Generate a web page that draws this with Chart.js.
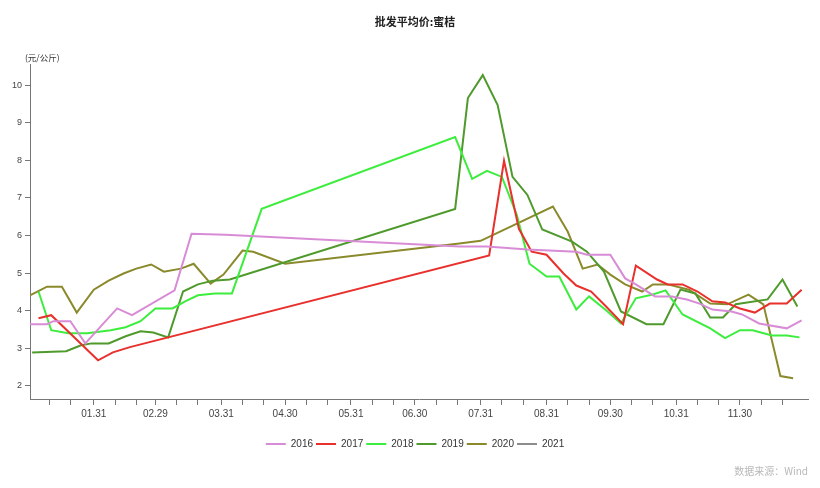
<!DOCTYPE html>
<html>
<head>
<meta charset="utf-8">
<title>批发平均价:蜜桔</title>
<script src="https://cdn.jsdelivr.net/npm/chart.js@4.4.0/dist/chart.umd.min.js"></script>
<style>
body { margin: 0; background: #fff; }
#wrap { position: relative; width: 820px; height: 488px; }
#unidad { position: absolute; left: 25px; top: 51px; font: 8.5px "Noto Sans CJK SC", sans-serif; color: #333; }
#fuente { position: absolute; right: 12px; top: 463px; font: 10px "Noto Sans CJK SC", sans-serif; color: #b8b8b8; }
</style>
</head>
<body>
<div id="wrap">
  <canvas id="grafico" width="820" height="488"></canvas>
  <div id="unidad">(元/公斤)</div>
  <div id="fuente">数据来源：Wind</div>
</div>
<script>
// datos: dia del ano (0 = 1 de enero) y precio en 元/公斤
var dias2016 = [0, 8, 11, 19, 26, 41, 48, 68, 76, 92, 202, 215, 234, 257, 262, 273, 280, 285, 294, 302, 309, 315, 321, 330, 335, 343, 356, 363];
var precios2016 = [3.64, 3.64, 3.72, 3.72, 3.13, 4.06, 3.88, 4.54, 6.05, 6.02, 5.71, 5.71, 5.63, 5.57, 5.49, 5.49, 4.86, 4.70, 4.38, 4.38, 4.30, 4.19, 4.03, 3.98, 3.90, 3.66, 3.53, 3.74];

var dias2017 = [4, 10, 32, 39, 47, 216, 223, 230, 236, 243, 251, 257, 264, 271, 279, 285, 295, 300, 307, 314, 321, 327, 334, 341, 348, 356, 363];
var precios2017 = [3.80, 3.88, 2.68, 2.89, 3.03, 5.47, 7.99, 6.18, 5.57, 5.49, 4.99, 4.67, 4.51, 4.11, 3.64, 5.20, 4.83, 4.70, 4.70, 4.51, 4.25, 4.22, 4.06, 3.95, 4.19, 4.19, 4.56];

var dias2018 = [4, 10, 18, 27, 38, 45, 52, 59, 67, 73, 79, 87, 95, 109, 200, 208, 215, 222, 229, 235, 243, 249, 257, 263, 271, 278, 285, 293, 299, 307, 320, 327, 334, 340, 349, 356, 362];
var precios2018 = [4.51, 3.48, 3.40, 3.40, 3.48, 3.56, 3.72, 4.06, 4.06, 4.25, 4.41, 4.46, 4.46, 6.71, 8.62, 7.51, 7.72, 7.56, 6.55, 5.25, 4.91, 4.91, 4.03, 4.38, 4.01, 3.66, 4.33, 4.43, 4.54, 3.90, 3.53, 3.27, 3.48, 3.48, 3.34, 3.34, 3.29];

var dias2019 = [1, 17, 24, 29, 37, 45, 52, 58, 65, 72, 79, 86, 94, 200, 206, 213, 220, 227, 234, 241, 255, 262, 270, 278, 290, 298, 306, 313, 320, 326, 332, 347, 354, 361];
var precios2019 = [2.89, 2.92, 3.08, 3.13, 3.13, 3.32, 3.45, 3.42, 3.29, 4.51, 4.70, 4.80, 4.83, 6.71, 9.66, 10.27, 9.47, 7.56, 7.08, 6.16, 5.84, 5.57, 5.04, 3.98, 3.64, 3.64, 4.56, 4.46, 3.82, 3.82, 4.17, 4.30, 4.83, 4.11];

var dias2020 = [0, 8, 15, 22, 30, 37, 44, 50, 57, 63, 71, 77, 85, 91, 100, 105, 120, 202, 212, 246, 253, 260, 267, 273, 280, 288, 293, 300, 310, 320, 328, 338, 345, 348, 353, 359];
var precios2020 = [4.41, 4.64, 4.64, 3.95, 4.56, 4.80, 4.99, 5.12, 5.23, 5.04, 5.12, 5.25, 4.72, 4.96, 5.60, 5.57, 5.25, 5.79, 5.86, 6.77, 6.10, 5.12, 5.23, 4.96, 4.70, 4.51, 4.70, 4.70, 4.56, 4.19, 4.17, 4.43, 4.17, 3.45, 2.26, 2.20];

// 2021 solo aparece en la leyenda
var dias2021 = [];
var precios2021 = [];

var anios = ['2016', '2017', '2018', '2019', '2020', '2021'];
var colores = ['#d98cd6', '#e8302c', '#3ded3d', '#4f9a2c', '#8a8a2c', '#8c8c8c'];

// ejes
var diasMes = [31, 29, 31, 30, 31, 30, 31, 31, 30, 31, 30, 31];
var etiquetasX = ['01.31', '02.29', '03.31', '04.30', '05.31', '06.30', '07.31', '08.31', '09.30', '10.31', '11.30'];
var marcasY = [2, 3, 4, 5, 6, 7, 8, 9, 10];

function puntos(dias, precios) {
    var lista = [];
    for (var i = 0; i < dias.length; i++) {
        lista.push({ x: dias[i], y: precios[i] });
    }
    return lista;
}

// marcas del eje x: dias 10, 20 y fin de cada mes
var marcasX = [];
var etiquetaPorDia = {};
var acumulado = 0;
for (var m = 0; m < 12; m++) {
    marcasX.push(acumulado + 9);
    marcasX.push(acumulado + 19);
    var fin = acumulado + diasMes[m] - 1;
    if (m < 11) {
        marcasX.push(fin);
        etiquetaPorDia[fin] = etiquetasX[m];
    }
    acumulado += diasMes[m];
}

var series = [
    [dias2016, precios2016],
    [dias2017, precios2017],
    [dias2018, precios2018],
    [dias2019, precios2019],
    [dias2020, precios2020],
    [dias2021, precios2021]
];

var datasets = [];
for (var i = 0; i < series.length; i++) {
    datasets.push({
        label: anios[i],
        data: puntos(series[i][0], series[i][1]),
        borderColor: colores[i],
        backgroundColor: colores[i],
        borderWidth: 2,
        pointRadius: 0,
        tension: 0,
        fill: false
    });
}

var fuenteEje = '"Liberation Sans", Arial, sans-serif';

new Chart(document.getElementById('grafico'), {
    type: 'line',
    data: { datasets: datasets },
    options: {
        responsive: false,
        animation: false,
        devicePixelRatio: 1,
        events: [],
        layout: { padding: { left: 22, right: 12, top: 0, bottom: 29 } },
        plugins: {
            title: {
                display: true,
                text: '批发平均价:蜜桔',
                color: '#222',
                font: { family: '"Noto Sans CJK SC", sans-serif', size: 11, weight: 'bold' },
                padding: { top: 15, bottom: 36 }
            },
            legend: {
                position: 'bottom',
                labels: {
                    usePointStyle: true,
                    pointStyle: 'line',
                    pointStyleWidth: 20,
                    padding: 3,
                    color: '#333',
                    font: { family: fuenteEje, size: 10 }
                }
            },
            tooltip: { enabled: false }
        },
        scales: {
            x: {
                type: 'linear',
                min: 0,
                max: 366,
                afterBuildTicks: function(scale) {
                    scale.ticks = marcasX.map(function(v) { return { value: v }; });
                },
                afterFit: function(scale) { scale.height = 37; },
                grid: { drawOnChartArea: false, drawTicks: true, tickLength: 6, color: '#777' },
                border: { display: true, color: '#777' },
                ticks: {
                    autoSkip: false,
                    maxRotation: 0,
                    padding: 3,
                    color: '#444',
                    font: { family: fuenteEje, size: 10 },
                    callback: function(value) { return etiquetaPorDia[value] || ''; }
                }
            },
            y: {
                min: 1.65,
                max: 10.56,
                afterBuildTicks: function(scale) {
                    scale.ticks = marcasY.map(function(v) { return { value: v }; });
                },
                afterFit: function(scale) { scale.width = 8; },
                grid: { drawOnChartArea: false, drawTicks: true, tickLength: 5, color: '#777' },
                border: { display: true, color: '#777' },
                ticks: {
                    mirror: true,
                    crossAlign: 'far',
                    padding: -18,
                    color: '#444',
                    font: { family: fuenteEje, size: 9 }
                }
            }
        }
    }
});
</script>
</body>
</html>
